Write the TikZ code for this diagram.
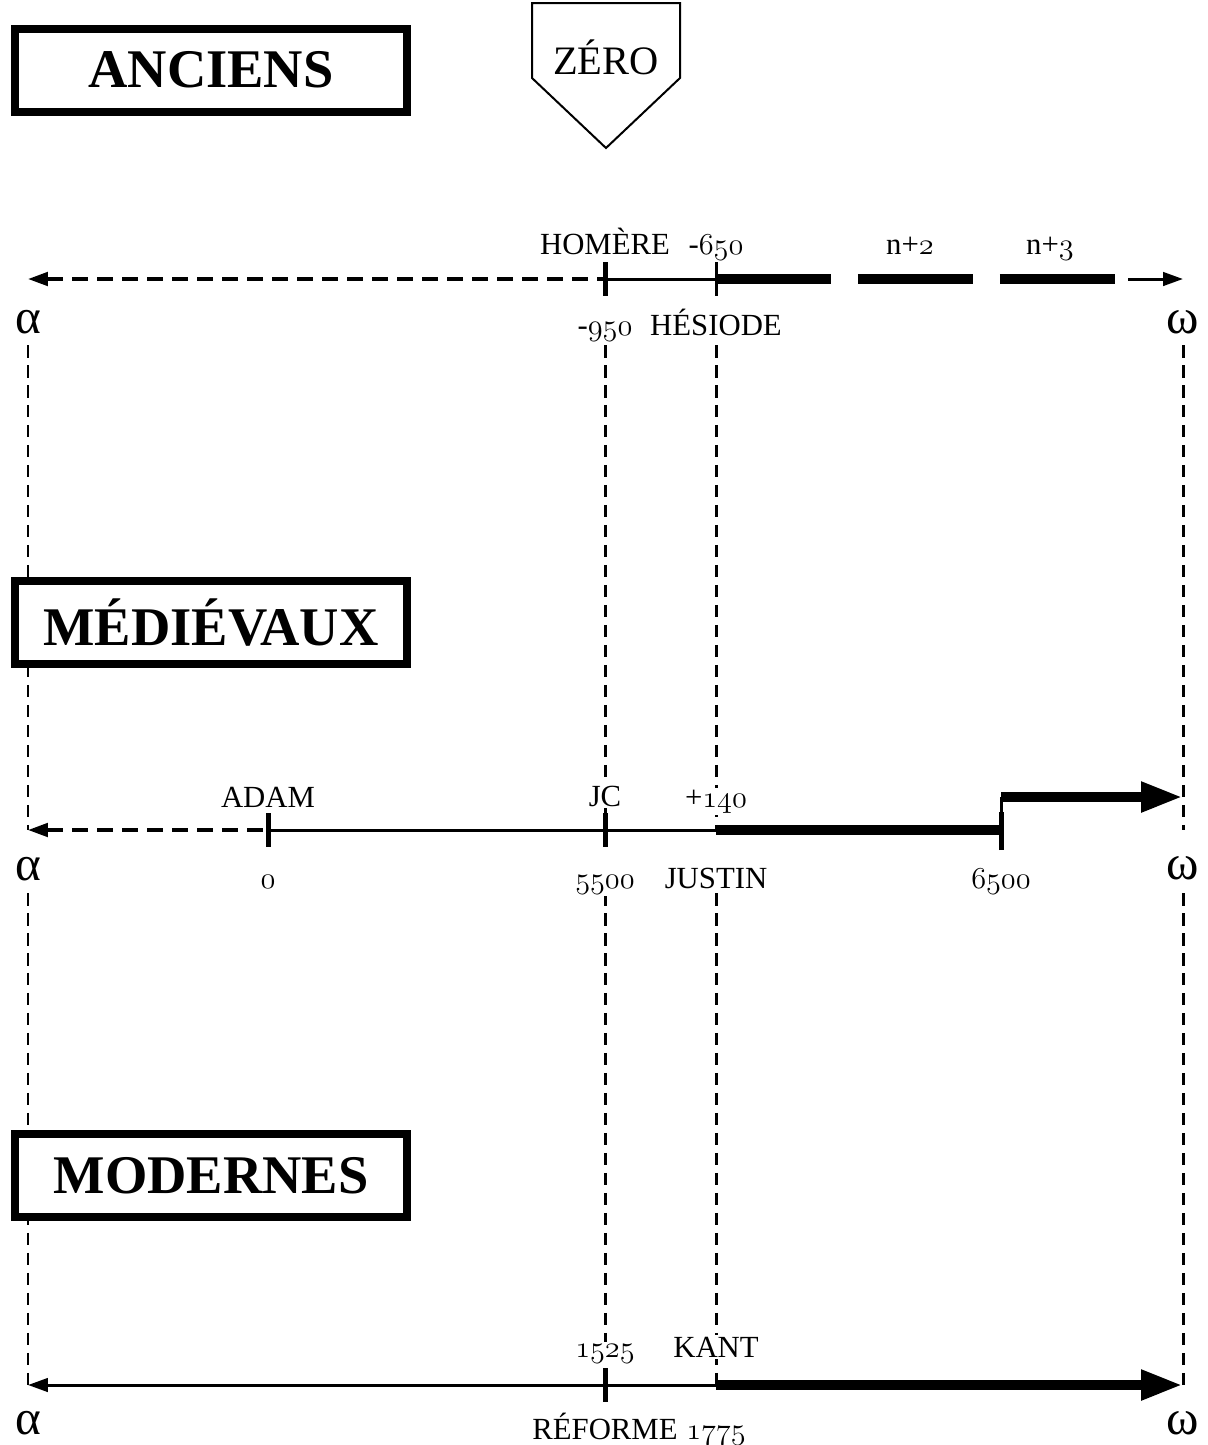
\documentclass[tikz,border=0pt]{standalone}
\usepackage{fontspec}
\setmainfont{Liberation Serif}
\usetikzlibrary{arrows.meta,positioning,calc}
\newcommand\oldfig[1]{$\mathnormal{#1}$}
\tikzset{
    axis/.style={line width=0.06cm},
    dashaxis/.style={line width=0.07cm, dash pattern=on 0.32cm off 0.18cm},
    vline/.style={line width=0.06cm, dash pattern=on 0.25cm off 0.15cm},
    heavy/.style={line width=0.21cm},
    tick/.style={line width=0.1cm},
    smalltip/.tip={Triangle[length=0.4cm,width=0.27cm]},
    bigtip/.tip={Triangle[length=0.84cm,width=0.56cm]},
}

\begin{document}
\begin{tikzpicture}[x=0.02cm, y=-0.02cm,
  era/.style={draw, line width=0.16cm, fill=white, minimum width=7.86cm, minimum height=1.66cm, inner sep=0pt, font=\bfseries\fontsize{31}{36}\selectfont},
  lbl/.style={fill=white, inner sep=1pt, font=\fontsize{17.5}{20}\selectfont},
  greek/.style={fill=white, inner sep=0pt, font=\fontsize{28}{32}\selectfont}]
  \useasboundingbox (0,0) rectangle (1208,1445);

  % points des trois axes
  \coordinate (aA) at (28,279);
  \coordinate (hom) at (605,279);
  \coordinate (hes) at (716,279);
  \coordinate (seg3end) at (1115,279);
  \coordinate (lastdash) at (1128,279);
  \coordinate (wA) at (1183,279);

  \coordinate (aB) at (28,830);
  \coordinate (adam) at (268,830);
  \coordinate (jc) at (605,830);
  \coordinate (justin) at (716,830);
  \coordinate (sixk) at (1001,830);
  \coordinate (stepup) at (1001,797);
  \coordinate (wB) at (1183,797);

  \coordinate (aC) at (28,1385);
  \coordinate (reforme) at (605,1385);
  \coordinate (kant) at (716,1385);
  \coordinate (wC) at (1183,1385);

  \coordinate (vtop) at (0,345);
  \coordinate (vmid) at (0,893);

  % verticales
  \draw[vline] (aA |- vtop) -- (aB);
  \draw[vline] (aA |- vmid) -- (aC);
  \draw[vline] (hom |- vtop) -- (jc);
  \draw[vline] (hom |- vmid) -- (reforme);
  \draw[vline] (hes |- vtop) -- (justin);
  \draw[vline] (hes |- vmid) -- (kant);
  \draw[vline] (wA |- vtop) -- (wB |- aB);
  \draw[vline] (wA |- vmid) -- (wC);

  % ANCIENS
  \draw[dashaxis, smalltip-] (aA) -- (hom);
  \draw[axis] (hom) -- (hes);
  \draw[line width=0.2cm, dash pattern=on 2.3cm off 0.54cm] (hes) -- (seg3end);
  \draw[axis, -smalltip] (lastdash) -- (wA);
  \draw[tick] (hom) ++(0,-17) -- ++(0,34);
  \draw[line width=0.06cm] (hes) ++(0,-17) -- ++(0,34);

  % MEDIEVAUX
  \draw[dashaxis, smalltip-] (aB) -- (adam);
  \draw[axis] (adam) -- (justin);
  \draw[heavy] (justin) -- (sixk);
  \draw[axis] (sixk) -- (stepup);
  \draw[heavy, -bigtip] (stepup) -- (wB);
  \draw[tick] (adam) ++(0,-17) -- ++(0,34);
  \draw[tick] (jc) ++(0,-17) -- ++(0,34);
  \draw[tick] (sixk) ++(0,20) -- ++(0,-38);

  % MODERNES
  \draw[axis, smalltip-] (aC) -- (kant);
  \draw[heavy, -bigtip] (kant) -- (wC);
  \draw[tick] (reforme) ++(0,-17) -- ++(0,34);

  % etiquettes
  \node[lbl, above=0.5cm of hom, anchor=base] (homere) {HOMÈRE};
  \node[lbl, above=0.5cm of hes, anchor=base] (m650) {-\oldfig{650}};
  \node[lbl, below=1.14cm of hom, anchor=base] (m950) {-\oldfig{950}};
  \node[lbl, below=1.14cm of hes, anchor=base] (hesiode) {HÉSIODE};
  \node[lbl, anchor=base] (nplus2) at (910,254) {n+\oldfig{2}};
  \node[lbl, anchor=base] (nplus3) at (1050,254) {n+\oldfig{3}};
  \node[greek, below=1.1cm of aA, anchor=base] (alphaA) {α};
  \node[greek, below=1.1cm of wA, anchor=base] (omegaA) {ω};

  \node[lbl, above=0.46cm of adam, anchor=base] (adamlbl) {ADAM};
  \node[lbl, above=0.48cm of jc, anchor=base] (jclbl) {JC};
  \node[lbl, above=0.46cm of justin, anchor=base] (p140) {+\oldfig{140}};
  \node[lbl, below=1.16cm of adam, anchor=base] (zerolbl) {\oldfig{0}};
  \node[lbl, below=1.16cm of jc, anchor=base] (n5500) {\oldfig{5500}};
  \node[lbl, below=1.16cm of justin, anchor=base] (justinlbl) {JUSTIN};
  \node[lbl, below=1.16cm of sixk, anchor=base] (n6500) {\oldfig{6500}};
  \node[greek, below=1.0cm of aB, anchor=base] (alphaB) {α};
  \node[greek, below=1.66cm of wB, anchor=base] (omegaB) {ω};

  \node[lbl, above=0.56cm of reforme, anchor=base] (n1525) {\oldfig{1525}};
  \node[lbl, above=0.56cm of kant, anchor=base] (kantlbl) {KANT};
  \node[lbl, below=1.08cm of reforme, anchor=base] (reformelbl) {RÉFORME};
  \node[lbl, below=1.08cm of kant, anchor=base] (n1775) {\oldfig{1775}};
  \node[greek, below=0.98cm of aC, anchor=base] (alphaC) {α};
  \node[greek, below=0.98cm of wC, anchor=base] (omegaC) {ω};

  % periodes
  \node[era] (anciens) at (211,70) {ANCIENS};
  \node[era, below=9.24cm of anciens] (medievaux) {MÉDIÉVAUX};
  \node[era, below=9.24cm of medievaux] (modernes) {MODERNES};

  % ZERO
  \node[font=\fontsize{23}{27}\selectfont] (zero) at (606,57) {ZÉRO};
  \draw[line width=0.04cm] (532,3) -- (680,3) -- (680,78) -- (606,148) -- (532,78) -- cycle;
\end{tikzpicture}
\end{document}
